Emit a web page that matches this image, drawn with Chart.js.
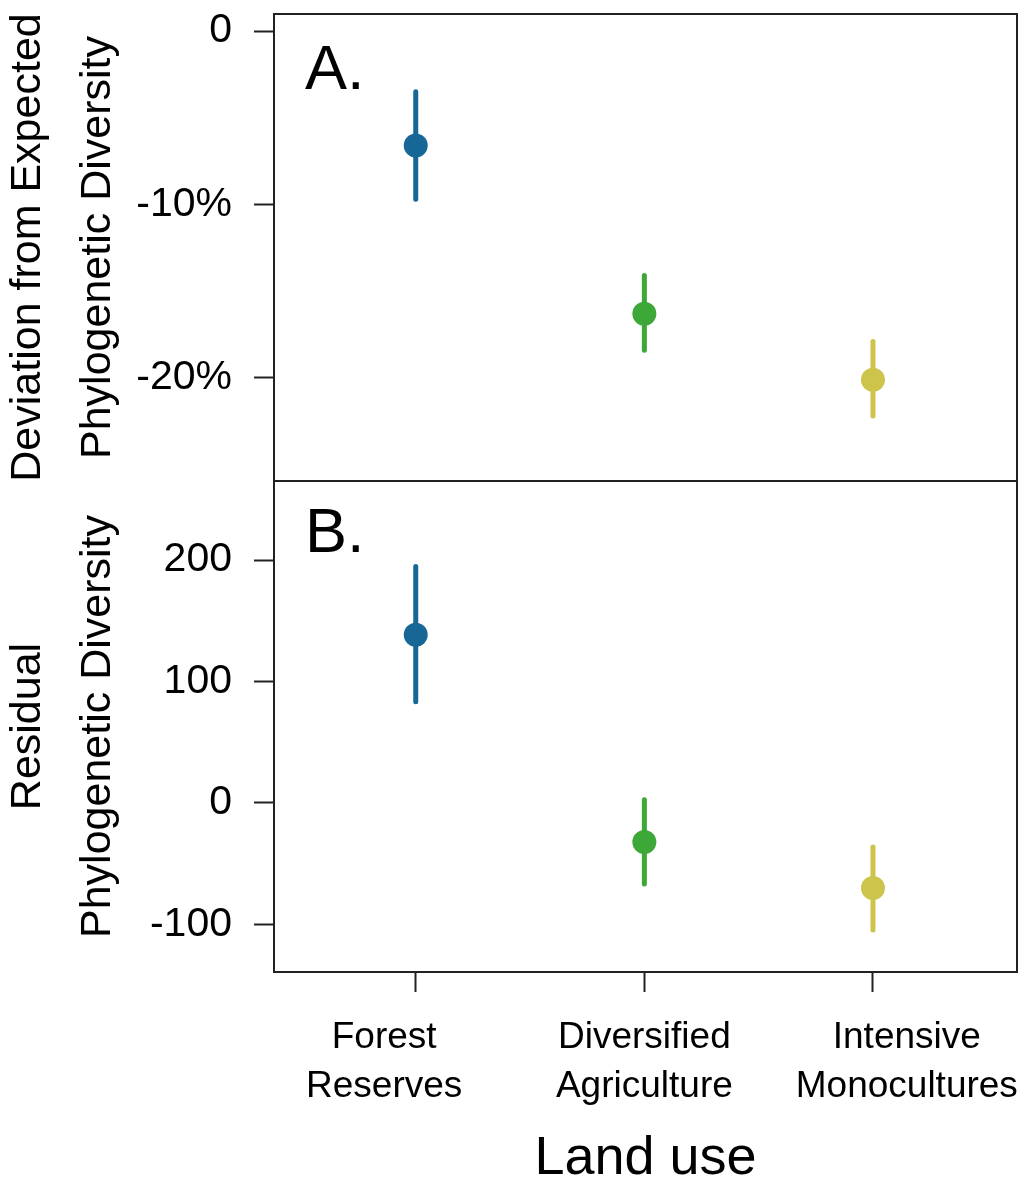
<!DOCTYPE html>
<html>
<head>
<meta charset="utf-8">
<script src="https://cdn.jsdelivr.net/npm/chart.js@4.4.0/dist/chart.umd.min.js"></script>
<style>
    html, body { margin: 0; padding: 0; background: #fff; }
    #wrap { position: relative; width: 1032px; height: 1181px; }
    .panel { position: absolute; left: 0; }
</style>
</head>
<body>
<div id="wrap">
    <canvas id="chartA" class="panel" style="top:0" width="1032" height="500"></canvas>
    <canvas id="chartB" class="panel" style="top:461px" width="1032" height="720"></canvas>
</div>
<script>
const categories = [['Forest', 'Reserves'], ['Diversified', 'Agriculture'], ['Intensive', 'Monocultures']];
const colors = ['#176796', '#3da737', '#cdc44c'];

// panel A: deviation from expected PD (%)
const deviationMean = [-6.6, -16.3, -20.1];
const deviationLow = [-9.7, -18.4, -22.2];
const deviationHigh = [-3.5, -14.1, -17.9];
const deviationTicks = [-20, -10, 0];

// panel B: residual PD
const residualMean = [138.5, -32.2, -70.1];
const residualLow = [83.3, -66.8, -104.7];
const residualHigh = [194.6, 2.5, -36.3];
const residualTicks = [-100, 0, 100, 200];

// x positions: tick marks at the categories, labels spread a bit wider
const markPositions = [1, 2, 3];
const labelPositions = [0.862, 2, 3.148];

const family = '"Liberation Sans", Arial, sans-serif';

function buildDatasets(mean, low, high) {
    const sets = [{
        data: mean.map((v, i) => ({ x: markPositions[i], y: v })),
        pointRadius: 12,
        pointBackgroundColor: colors,
        pointBorderWidth: 0,
        order: 0
    }];
    mean.forEach((v, i) => {
        sets.push({
            data: [{ x: markPositions[i], y: low[i] }, { x: markPositions[i], y: high[i] }],
            showLine: true,
            borderColor: colors[i],
            borderWidth: 5,
            borderCapStyle: 'round',
            pointRadius: 0,
            order: 1
        });
    });
    return sets;
}

function yScale(min, max, ticks, title, fmt) {
    return {
        type: 'linear',
        min: min,
        max: max,
        afterBuildTicks: s => { s.ticks = ticks.map(v => ({ value: v })); },
        afterFit: s => { s.width = 274; s.paddingTop = 0; s.paddingBottom = 0; },
        grid: { drawOnChartArea: false, drawTicks: true, tickLength: 20, tickWidth: 2, tickColor: '#222' },
        border: { display: false },
        ticks: { color: '#000', font: { family: family, size: 41 }, padding: 22, callback: fmt },
        title: {
            display: true, text: title, color: '#000',
            font: { family: family, size: 43, lineHeight: '70px' },
            padding: { top: -7, bottom: 0 }
        }
    };
}

const framePlugin = {
    id: 'frame',
    afterDraw(chart, args, opts) {
        const { ctx, chartArea: a } = chart;
        ctx.save();
        ctx.strokeStyle = '#222';
        ctx.lineWidth = 2;
        ctx.strokeRect(a.left, a.top, a.right - a.left, a.bottom - a.top);
        ctx.fillStyle = '#000';
        ctx.font = '63px ' + family;
        ctx.textBaseline = 'alphabetic';
        ctx.fillText(opts.label, a.left + 31, a.top + opts.baseline);
        ctx.restore();
    }
};

const common = {
    responsive: false,
    animation: false,
    events: [],
    plugins: { legend: { display: false }, tooltip: { enabled: false } }
};

new Chart(document.getElementById('chartA'), {
    type: 'scatter',
    data: { datasets: buildDatasets(deviationMean, deviationLow, deviationHigh) },
    plugins: [framePlugin],
    options: Object.assign({}, common, {
        layout: { padding: { top: 14, bottom: 19, right: 15, left: 0 } },
        plugins: Object.assign({}, common.plugins, { frame: { label: 'A.', baseline: 75 } }),
        scales: {
            x: { type: 'linear', min: 0.38, max: 3.63, display: false },
            y: yScale(-25.94, 0.98, deviationTicks, ['Deviation from Expected', 'Phylogenetic Diversity'],
                v => v === 0 ? '0' : v + '%')
        }
    })
});

const xTickValues = Array.from(new Set(markPositions.concat(labelPositions))).sort((a, b) => a - b);

new Chart(document.getElementById('chartB'), {
    type: 'scatter',
    data: { datasets: buildDatasets(residualMean, residualLow, residualHigh) },
    plugins: [framePlugin],
    options: Object.assign({}, common, {
        layout: { padding: { top: 20, bottom: 0, right: 15, left: 0 } },
        plugins: Object.assign({}, common.plugins, { frame: { label: 'B.', baseline: 71 } }),
        scales: {
            x: {
                type: 'linear', min: 0.38, max: 3.63,
                afterBuildTicks: s => { s.ticks = xTickValues.map(v => ({ value: v })); },
                afterFit: s => { s.height = 209; s.paddingLeft = 0; s.paddingRight = 0; },
                grid: {
                    drawOnChartArea: false, drawTicks: true, tickLength: 20, tickWidth: 2,
                    tickColor: c => markPositions.includes(c.tick.value) ? '#222' : 'rgba(0,0,0,0)'
                },
                border: { display: false },
                ticks: {
                    color: '#000', font: { family: family, size: 37, lineHeight: '49px' },
                    padding: 21, maxRotation: 0, autoSkip: false,
                    callback: v => {
                        const k = labelPositions.indexOf(v);
                        return k >= 0 ? categories[k] : '';
                    }
                },
                title: {
                    display: true, text: 'Land use', color: '#000',
                    font: { family: family, size: 54, lineHeight: '44px' },
                    padding: 0
                }
            },
            y: yScale(-139.3, 265.1, residualTicks, ['Residual', 'Phylogenetic Diversity'], v => String(v))
        }
    })
});
</script>
</body>
</html>
